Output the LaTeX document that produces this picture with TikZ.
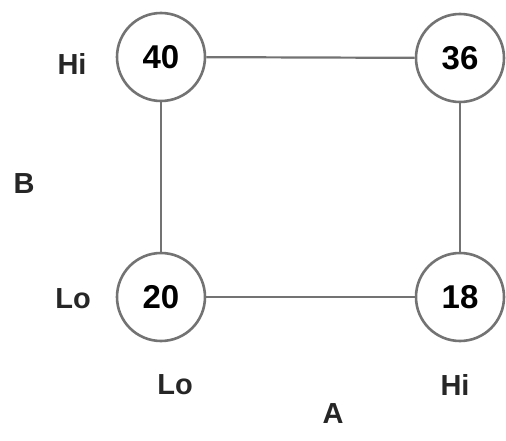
\documentclass[tikz,border=0pt]{standalone}
\usepackage{fontspec}
\setmainfont{Liberation Sans}
\begin{document}
\begin{tikzpicture}[x=1pt,y=-1pt,
  lvl/.style={circle,draw=black!55,line width=2.6pt,fill=white,minimum size=88pt,inner sep=0pt,font=\fontsize{33}{35}\selectfont\bfseries},
  edge/.style={draw=black!55,line width=2.2pt},
  lab/.style={font=\fontsize{29}{31}\selectfont\bfseries,text=black!85}]
\useasboundingbox (0,0) rectangle (506,441);
\node[lvl] (a) at (161,57) {40};
\node[lvl] (b) at (460,58) {36};
\node[lvl] (c) at (161,297) {20};
\node[lvl] (d) at (460,297) {18};
\draw[edge] (a) -- (b);
\draw[edge] (a) -- (c);
\draw[edge] (b) -- (d);
\draw[edge] (c) -- (d);
\node[lab] (hi1) at (72,64) {Hi};
\node[lab] (bl) at (24,184) {B};
\node[lab] (lo1) at (73,299) {Lo};
\node[lab] (lo2) at (175,385) {Lo};
\node[lab] (hi2) at (455,385) {Hi};
\node[lab] (al) at (333,414) {A};
\end{tikzpicture}
\end{document}
